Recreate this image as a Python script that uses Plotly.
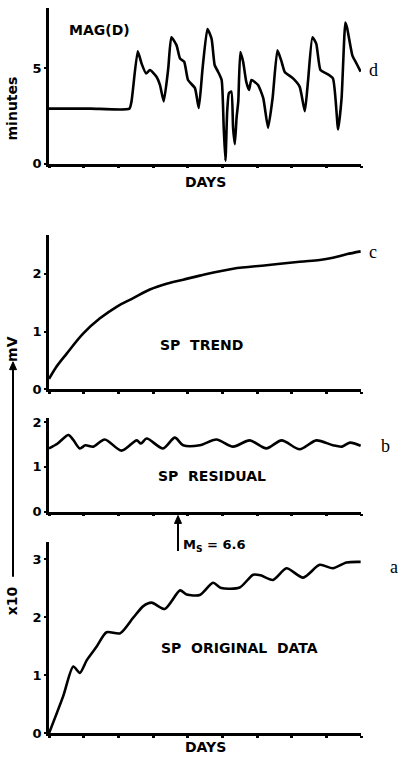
import plotly.graph_objects as go

W, H = 403, 766

# ---- data ----
mag_x = [0, 1.2, 2.32, 2.38, 2.56, 2.67, 2.80, 2.91, 3.10, 3.20, 3.31, 3.44, 3.53, 3.68, 3.78, 3.90, 4.01, 4.21, 4.32,
         4.43, 4.57, 4.69, 4.78, 4.88, 4.98, 5.04, 5.09, 5.14, 5.19, 5.26, 5.31, 5.36, 5.41, 5.46, 5.52, 5.60,
         5.69, 5.77, 5.84, 6.03, 6.18, 6.32, 6.45, 6.59, 6.71, 6.80, 7.04, 7.23, 7.38, 7.47, 7.60, 7.71, 7.83,
         8.00, 8.19, 8.34, 8.44, 8.55, 8.60, 8.75, 8.87, 8.99]
mag_y = [2.88, 2.88, 2.88, 3.26, 5.88, 5.24, 4.72, 4.90, 4.55, 4.12, 3.26, 4.98, 6.62, 6.19, 5.50, 5.33, 4.38, 3.95, 2.91,
         4.98, 7.05, 6.53, 5.15, 4.80, 4.38, 1.88, 0.15, 2.74, 3.69, 3.77, 1.88, 1.02, 2.39, 3.26, 5.84, 5.33,
         4.29, 3.86, 4.38, 4.12, 3.43, 1.88, 3.43, 5.93, 5.33, 4.80, 4.46, 4.03, 2.74, 4.29, 6.62, 6.27, 4.90,
         4.72, 4.46, 1.79, 3.43, 7.39, 7.10, 5.67, 5.24, 4.81]

trend_x = [0, 0.2, 0.51, 0.99, 1.47, 1.95, 2.43, 2.91, 3.39, 3.87, 4.35, 5.31, 6.27, 7.23, 7.81, 8.19, 8.58, 8.99]
trend_y = [0.18, 0.38, 0.62, 0.97, 1.23, 1.43, 1.58, 1.73, 1.83, 1.90, 1.97, 2.09, 2.15, 2.21, 2.24, 2.28, 2.34, 2.39]

resid_x = [0, 0.25, 0.56, 0.70, 0.89, 1.05, 1.28, 1.61, 2.09, 2.53, 2.65, 2.82, 3.29, 3.63, 3.87, 4.35, 4.83,
           5.31, 5.79, 6.27, 6.71, 7.23, 7.71, 8.19, 8.45, 8.68, 8.99]
resid_y = [1.41, 1.52, 1.71, 1.60, 1.41, 1.48, 1.45, 1.61, 1.36, 1.59, 1.52, 1.63, 1.41, 1.65, 1.48, 1.48, 1.61,
           1.45, 1.59, 1.41, 1.59, 1.39, 1.59, 1.48, 1.45, 1.54, 1.47]

orig_x = [0, 0.41, 0.70, 0.89, 1.09, 1.37, 1.66, 2.05, 2.43, 2.72, 2.96, 3.34, 3.78, 3.97, 4.35, 4.73, 4.97,
          5.50, 5.89, 6.10, 6.46, 6.85, 7.33, 7.81, 8.19, 8.58, 8.99]
orig_y = [0.00, 0.64, 1.15, 1.04, 1.26, 1.49, 1.74, 1.72, 1.99, 2.19, 2.25, 2.14, 2.46, 2.39, 2.38, 2.59, 2.50,
          2.51, 2.73, 2.72, 2.64, 2.84, 2.68, 2.90, 2.84, 2.94, 2.95]

day_ticks = list(range(10))
mag_ticks = [0, 5]
trend_ticks = [0, 1, 2]
resid_ticks = [0, 1, 2]
orig_ticks = [0, 1, 2, 3]


def px(x):
    return x / W


def py(y):
    return 1 - y / H


X0, X1 = 49, 361
panels = [
    # (x data, y data, ticks, yrange top, y0 pixel, ytop pixel, smoothing)
    (mag_x, mag_y, mag_ticks, 8.15, 163, 5, 0.5),
    (trend_x, trend_y, trend_ticks, 2.68, 392, 235, 1.0),
    (resid_x, resid_y, resid_ticks, 2.09, 516, 421, 0.8),
    (orig_x, orig_y, orig_ticks, 3.29, 741, 547, 0.7),
]

fig = go.Figure()
tickfont = dict(family="DejaVu Sans", size=13, color="black", weight="bold")
for i, (xs, ys, ticks, top, y0p, ytp, sm) in enumerate(panels, start=1):
    sfx = "" if i == 1 else str(i)
    fig.add_trace(go.Scatter(x=xs, y=ys, mode="lines", xaxis="x" + sfx, yaxis="y" + sfx,
                             line=dict(color="black", width=2.6, shape="spline", smoothing=sm),
                             showlegend=False, hoverinfo="skip"))
    fig.layout["xaxis" + sfx] = dict(domain=[px(X0), px(X1)], range=[0, 9], anchor="y" + sfx,
                                     showline=True, linecolor="black", linewidth=2.6, showgrid=False,
                                     zeroline=False, tickvals=day_ticks, ticks="outside", ticklen=2,
                                     tickwidth=3, tickcolor="black", showticklabels=False)
    fig.layout["yaxis" + sfx] = dict(domain=[py(y0p), py(ytp)], range=[0, top], anchor="x" + sfx,
                                     showline=True, linecolor="black", linewidth=2.6, showgrid=False,
                                     zeroline=False, tickvals=ticks, ticks="outside", ticklen=2,
                                     tickwidth=2, tickcolor="black", tickfont=tickfont)

lab = dict(family="DejaVu Sans", size=14, color="black", weight="bold")
ser = dict(family="Liberation Serif", size=18, color="black")
ann = []


def text(t, x, y, font, xanchor="center", **kw):
    ann.append(dict(text=t, x=px(x), y=py(y), xref="paper", yref="paper", showarrow=False,
                    xanchor=xanchor, yanchor="middle", font=font, **kw))


text("MAG(D)", 99, 27, lab)
text("minutes", 12, 107, lab, textangle=-90)
text("DAYS", 205, 182, lab)
text("DAYS", 205, 755, lab)
text("d", 373, 68, ser)
text("c", 373, 253, ser)
text("b", 385, 449, ser)
text("a", 394, 572, ser)
text("SP  TREND", 202, 347, lab)
text("SP  RESIDUAL", 212, 480, lab)
text("SP  ORIGINAL  DATA", 239, 654, lab)
text("M<sub>S</sub> = 6.6", 181, 550, dict(lab, size=13), xanchor="left")
text("mV", 12, 351, lab, textangle=-90)
text("x10", 12, 607, lab, textangle=-90)


# arrows drawn as shapes (vertical shaft + triangular head pointing up)
def arrow(x, ytop, ybot, head=8, half=3.5):
    return [
        dict(type="line", xref="paper", yref="paper", x0=px(x), x1=px(x), y0=py(ytop + head - 1),
             y1=py(ybot), line=dict(color="black", width=2)),
        dict(type="path", xref="paper", yref="paper",
             path=f"M {px(x)} {py(ytop)} L {px(x - half)} {py(ytop + head)} L {px(x + half)} {py(ytop + head)} Z",
             fillcolor="black", line=dict(color="black", width=1)),
    ]


shapes = arrow(178, 520, 556) + arrow(13, 364, 582)

fig.update_layout(width=W, height=H, margin=dict(l=0, r=0, t=0, b=0), paper_bgcolor="white",
                  plot_bgcolor="white", annotations=ann, shapes=shapes)
fig.write_html("out.html")
